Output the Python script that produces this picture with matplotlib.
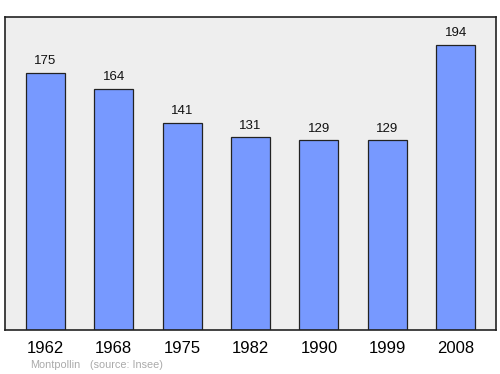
import matplotlib.pyplot as plt

plt.rcParams['font.family'] = ['Liberation Sans', 'DejaVu Sans']

years = ['1962', '1968', '1975', '1982', '1990', '1999', '2008']
population = [175, 164, 141, 131, 129, 129, 194]

fig = plt.figure(figsize=(5, 3.74), dpi=100)
ax = fig.add_axes([5 / 500, 1 - 330 / 374, 491 / 500, 313 / 374])
ax.set_facecolor('#eeeeee')

x = range(len(years))
ax.bar(x, population, width=0.57, color='#7799ff', edgecolor='#222222', linewidth=0.9)
for i, v in zip(x, population):
    ax.text(i, v + 4, str(v), ha='center', va='bottom', fontsize=9.5, color='#111111')

ax.set_xlim(-0.59, 6.59)
ax.set_ylim(0, 213)
ax.set_yticks([])
ax.set_xticks(list(x))
ax.set_xticklabels(years, fontsize=12)
ax.tick_params(axis='x', length=0, pad=8)
for s in ax.spines.values():
    s.set_linewidth(1.2)
    s.set_color('#222222')

fig.text(30 / 500, 1 - 365 / 374, 'Montpollin', fontsize=7.8, color='#aaaaaa', va='center')
fig.text(90 / 500, 1 - 365 / 374, '(source: Insee)', fontsize=7.8, color='#aaaaaa', va='center')

fig.savefig('out.png', dpi=100)
